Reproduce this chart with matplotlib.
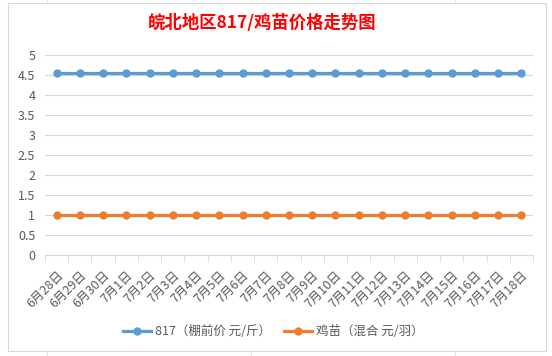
import numpy as np
import matplotlib.pyplot as plt
from matplotlib.patches import Rectangle
from matplotlib.lines import Line2D

plt.rcParams['font.family'] = ['Noto Sans CJK SC', 'DejaVu Sans']

dates = ["6月28日", "6月29日", "6月30日"] + [f"7月{d}日" for d in range(1, 19)]
price_817 = [4.55] * 21
price_chick = [1.0] * 21

series_names = ["817（棚前价 元/斤）", "鸡苗（混合 元/羽）"]
colors = ["#5b9bd5", "#ed7d31"]

fig = plt.figure(figsize=(5.52, 3.56), dpi=100)
fig.patch.set_facecolor("white")

# sheet cell lines + chart border
for xx in [0.085, 0.455, 0.825]:
    fig.add_artist(Line2D([xx, xx], [0, 1], color="#e6e6e6", lw=0.8, zorder=-3))
fig.add_artist(Rectangle((8 / 552, 5 / 356), 538 / 552, 348 / 356, transform=fig.transFigure,
                         facecolor="white", edgecolor="#d9d9d9", lw=0.8, zorder=-2))

ax = fig.add_axes([45 / 552, 1 - 255 / 356, 488 / 552, 200 / 356])
ax.patch.set_alpha(0)
x = np.arange(len(dates))
ax.plot(x, price_817, color=colors[0], lw=2.3, marker="o", ms=5, label=series_names[0])
ax.plot(x, price_chick, color=colors[1], lw=2.3, marker="o", ms=5, label=series_names[1])

ax.set_xlim(-0.5, len(dates) - 0.5)
ax.set_ylim(0, 5)
ax.set_yticks(np.arange(0, 5.01, 0.5))
ax.set_yticklabels(["0", "0.5", "1", "1.5", "2", "2.5", "3", "3.5", "4", "4.5", "5"])
ax.yaxis.grid(True, color="#d9d9d9", lw=0.8)
ax.set_axisbelow(True)
for s in ["top", "right", "left"]:
    ax.spines[s].set_visible(False)
ax.spines["bottom"].set_color("#d9d9d9")
ax.tick_params(axis="y", length=0, colors="#595959", labelsize=9, pad=7)

ax.set_xticks(x)
ax.set_xticklabels(dates, rotation=45, ha="right", va="top", rotation_mode="anchor",
                   fontsize=9, color="#595959")
ax.tick_params(axis="x", which="major", length=0, pad=10)
ax.set_xticks(np.arange(-0.5, len(dates)), minor=True)
ax.tick_params(axis="x", which="minor", length=5, color="#d9d9d9")

fig.text(0.474, 0.935, "皖北地区817/鸡苗价格走势图", color="red", fontsize=12.5,
         fontweight="bold", ha="center", va="center")

fig.legend(loc="center", bbox_to_anchor=(0.495, 0.068), ncol=2, frameon=False,
           fontsize=9, labelcolor="#595959", handlelength=2.3, handletextpad=0.3,
           columnspacing=1.0)

plt.savefig("out.png", dpi=100)
